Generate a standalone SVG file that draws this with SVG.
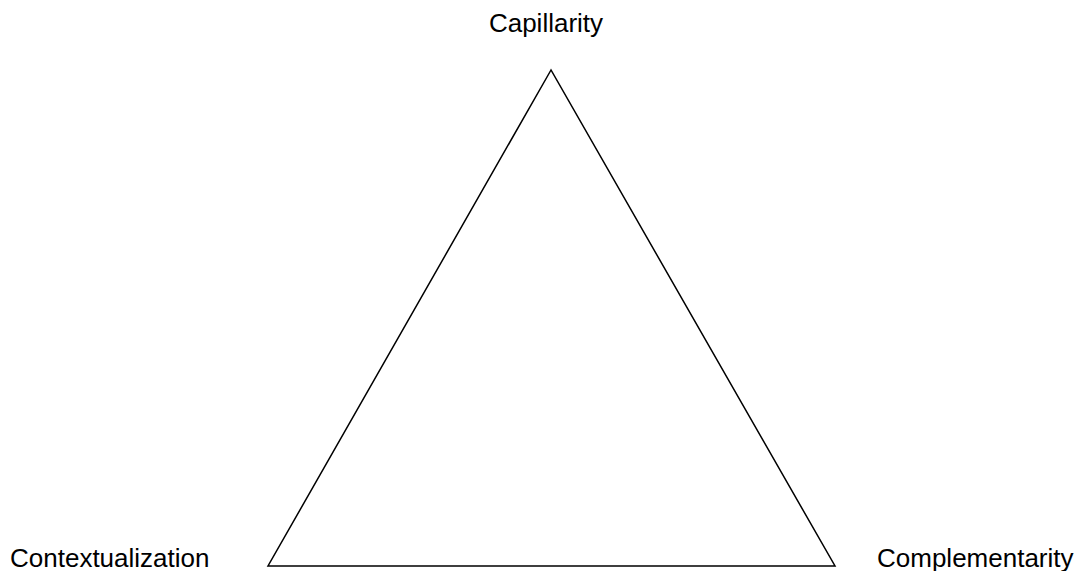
<svg xmlns="http://www.w3.org/2000/svg" width="1081" height="571" viewBox="0 0 1081 571">
<style>
text{font-family:"Liberation Sans",Arial,sans-serif;font-size:26px;fill:#000}
.edge{fill:none;stroke:#000;stroke-width:1.5}
</style>
<rect width="1081" height="571" fill="#fff"/>
<g id="connectors">
<polygon class="edge" points="551,70 268,566 835,566"/>
</g>
<g id="capillarity"><text x="546" y="32" text-anchor="middle">Capillarity</text></g>
<g id="contextualization"><text x="10" y="567">Contextualization</text></g>
<g id="complementarity"><text x="877" y="567">Complementarity</text></g>
</svg>
